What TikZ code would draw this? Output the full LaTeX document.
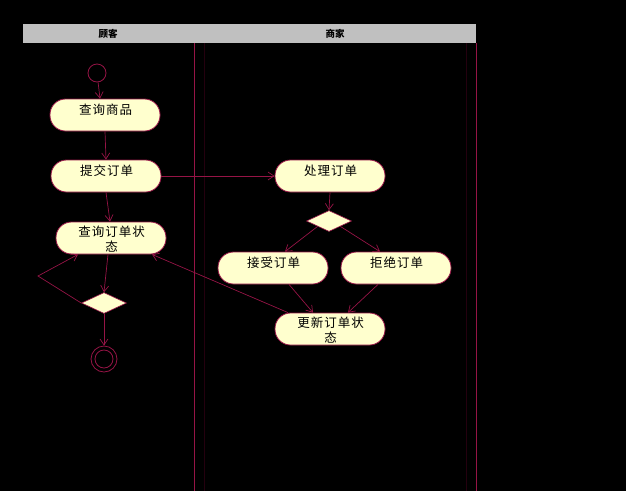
\documentclass[tikz,border=0pt]{standalone}
\usepackage{fontspec}
\newfontfamily\cjk{Noto Sans CJK SC}
\newfontfamily\cjkls[LetterSpace=8]{Noto Sans CJK SC}
\usetikzlibrary{arrows.meta,shapes.geometric}
\definecolor{ln}{RGB}{150,20,70}
\definecolor{lnfaint}{RGB}{35,0,14}
\definecolor{cream}{RGB}{255,255,206}
\definecolor{hdr}{RGB}{192,192,192}
\tikzset{
  act/.style={draw=ln, fill=cream, line width=0.8pt, minimum width=110pt, minimum height=32pt, rounded corners=15.5pt, inner sep=0pt},
  acttext/.style={font=\cjkls\fontsize{12.5}{15}\selectfont, align=center, inner sep=0pt},
  dec/.style={draw=ln, fill=cream, diamond, line width=0.6pt, inner sep=0pt, minimum width=45pt, minimum height=21pt, aspect=2.1},
  flow/.style={draw=ln, line width=0.7pt, -{Straight Barb[length=6pt,width=8pt]}},
  lane/.style={draw=ln, line width=0.7pt},
  lanefaint/.style={draw=lnfaint, line width=0.7pt},
  hdrtext/.style={font=\cjk\bfseries\fontsize{9.5}{10}\selectfont, text=black}
}
\begin{document}
\begin{tikzpicture}[x=1pt,y=-1pt]
\fill[black] (0,0) rectangle (626,491);
\useasboundingbox (0,0) rectangle (626,491);
% swimlanes
\fill[hdr] (23,24) rectangle (476,43);
\node[hdrtext] (h1) at (108,34) {顾客};
\node[hdrtext] (h2) at (335,34) {商家};
\draw[lanefaint] (204,43) -- (204,491);
\draw[lanefaint] (466,43) -- (466,491);
\draw[lane] (194,43) -- (194,491);
\draw[lane] (476,43) -- (476,491);
% nodes
\node[draw=ln, line width=0.8pt, circle, minimum size=18pt, inner sep=0pt] (start) at (97,73) {};
\node[act, label={[acttext, yshift=5pt, xshift=0.5pt]center:查询商品}] (a1) at (105,115) {};
\node[act, label={[acttext, yshift=5pt, xshift=0.5pt]center:提交订单}] (a2) at (106,176) {};
\node[act, label={[acttext, yshift=5pt, xshift=0.5pt]center:处理订单}] (b1) at (330,176) {};
\node[act, label={[acttext, yshift=-1pt, xshift=0.5pt]center:查询订单状\\态}] (a3) at (111,238) {};
\node[dec] (d1) at (329,221) {};
\node[act, label={[acttext, yshift=5pt, xshift=0.5pt]center:接受订单}] (b2) at (273,268) {};
\node[act, label={[acttext, yshift=5pt, xshift=0.5pt]center:拒绝订单}] (b3) at (396,268) {};
\node[act, label={[acttext, yshift=-1pt, xshift=0.5pt]center:更新订单状\\态}] (b4) at (330,329) {};
\node[dec] (d2) at (104,303) {};
\node[draw=ln, line width=0.8pt, circle, minimum size=26pt, inner sep=0pt] (fin) at (104,359) {};
\node[draw=ln, line width=0.8pt, circle, minimum size=18pt, inner sep=0pt] (finin) at (104,359) {};
\coordinate (loop) at (38,276);
% flows
\draw[flow] (start) -- (a1.north -| 100,0);
\draw[flow] (a1.south) -- (a2.north);
\draw[flow] (a2.east) -- (b1.west);
\draw[flow] (a2.south) -- ([xshift=4pt]a2.south |- a3.north);
\draw[flow] (b1.south) -- (d1.north);
\draw[flow] (d1.south west) -- ([xshift=12pt]b2.north);
\draw[flow] (d1.south east) -- ([xshift=-16pt]b3.north);
\draw[flow] ([xshift=16pt]b2.south) -- ([xshift=-17pt]b4.north);
\draw[flow] ([xshift=-18pt]b3.south) -- ([xshift=18pt]b4.north);
\draw[flow] ([xshift=-42pt]b4.north) -- ([xshift=41pt]a3.south);
\draw[flow] ([xshift=-3pt]a3.south) -- (d2.north);
\draw[flow] (d2.west) -- (loop) -- ([xshift=-33pt]a3.south);
\draw[flow] (d2.south) -- (fin.north);
\end{tikzpicture}
\end{document}
